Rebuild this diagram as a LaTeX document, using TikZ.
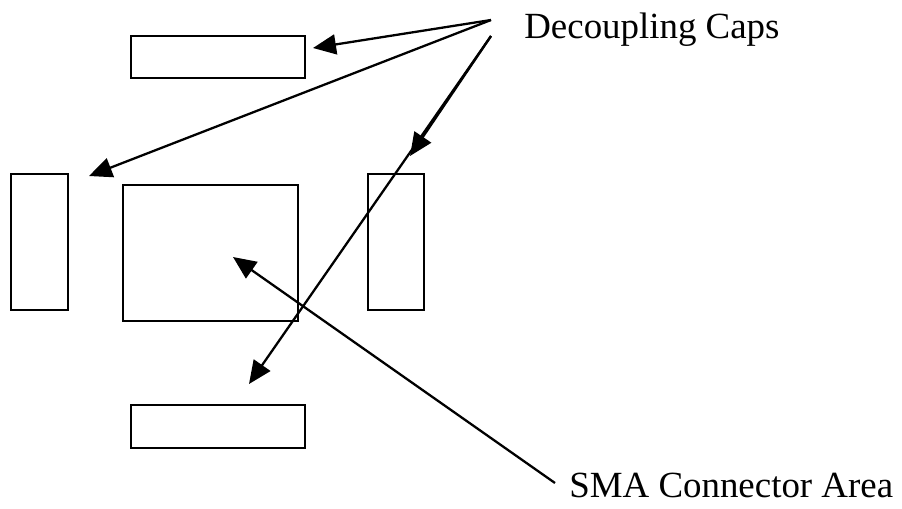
\documentclass[tikz,border=0pt]{standalone}
\usepackage{fontspec}
\setmainfont{Liberation Serif}
\usetikzlibrary{arrows.meta}
\tikzset{
  pad/.style={draw=black, line width=1.2pt, inner sep=0pt, line join=miter},
  lead/.style={draw=black, line width=1.3pt, -{Triangle[length=0.46cm, width=0.4cm]}},
  lab/.style={font=\fontsize{21}{25}\selectfont, inner sep=0pt},
}

\begin{document}
\begin{tikzpicture}[x=0.02cm, y=-0.02cm]
  \useasboundingbox (0,0) rectangle (902,508);

  % pads
  \node[pad, minimum width=3.48cm, minimum height=0.84cm] (capT) at (218,57) {};
  \node[pad, minimum width=1.14cm, minimum height=2.72cm] (capL) at (39.5,242) {};
  \node[pad, minimum width=3.5cm, minimum height=2.72cm] (sma) at (210.5,253) {};
  \node[pad, minimum width=1.12cm, minimum height=2.72cm] (capR) at (396,242) {};
  \node[pad, minimum width=3.48cm, minimum height=0.86cm] (capB) at (218,426.5) {};

  % labels
  \node[lab, anchor=base west] (dcap) at (524,38) {Decoupling Caps};
  \node[lab, anchor=base west] (smalab) at (569,497) {SMA Connector Area};

  \coordinate (dcA) at (491,20);
  \coordinate (dcB) at (491,36);
  \coordinate (smaA) at (555,483);
  \coordinate (tipT) at (313,48);
  \coordinate (tipL) at (89,176);
  \coordinate (tipR) at (410,156);
  \coordinate (tipB) at (249,384);
  \coordinate (tipM) at (233,257);

  \draw[lead] (dcA) -- (tipT);
  \draw[lead] (dcA) -- (tipL);
  \draw[lead] (dcB) -- (tipR);
  \draw[lead] (dcB) -- (tipB);
  \draw[lead] (smaA) -- (tipM);
\end{tikzpicture}
\end{document}
